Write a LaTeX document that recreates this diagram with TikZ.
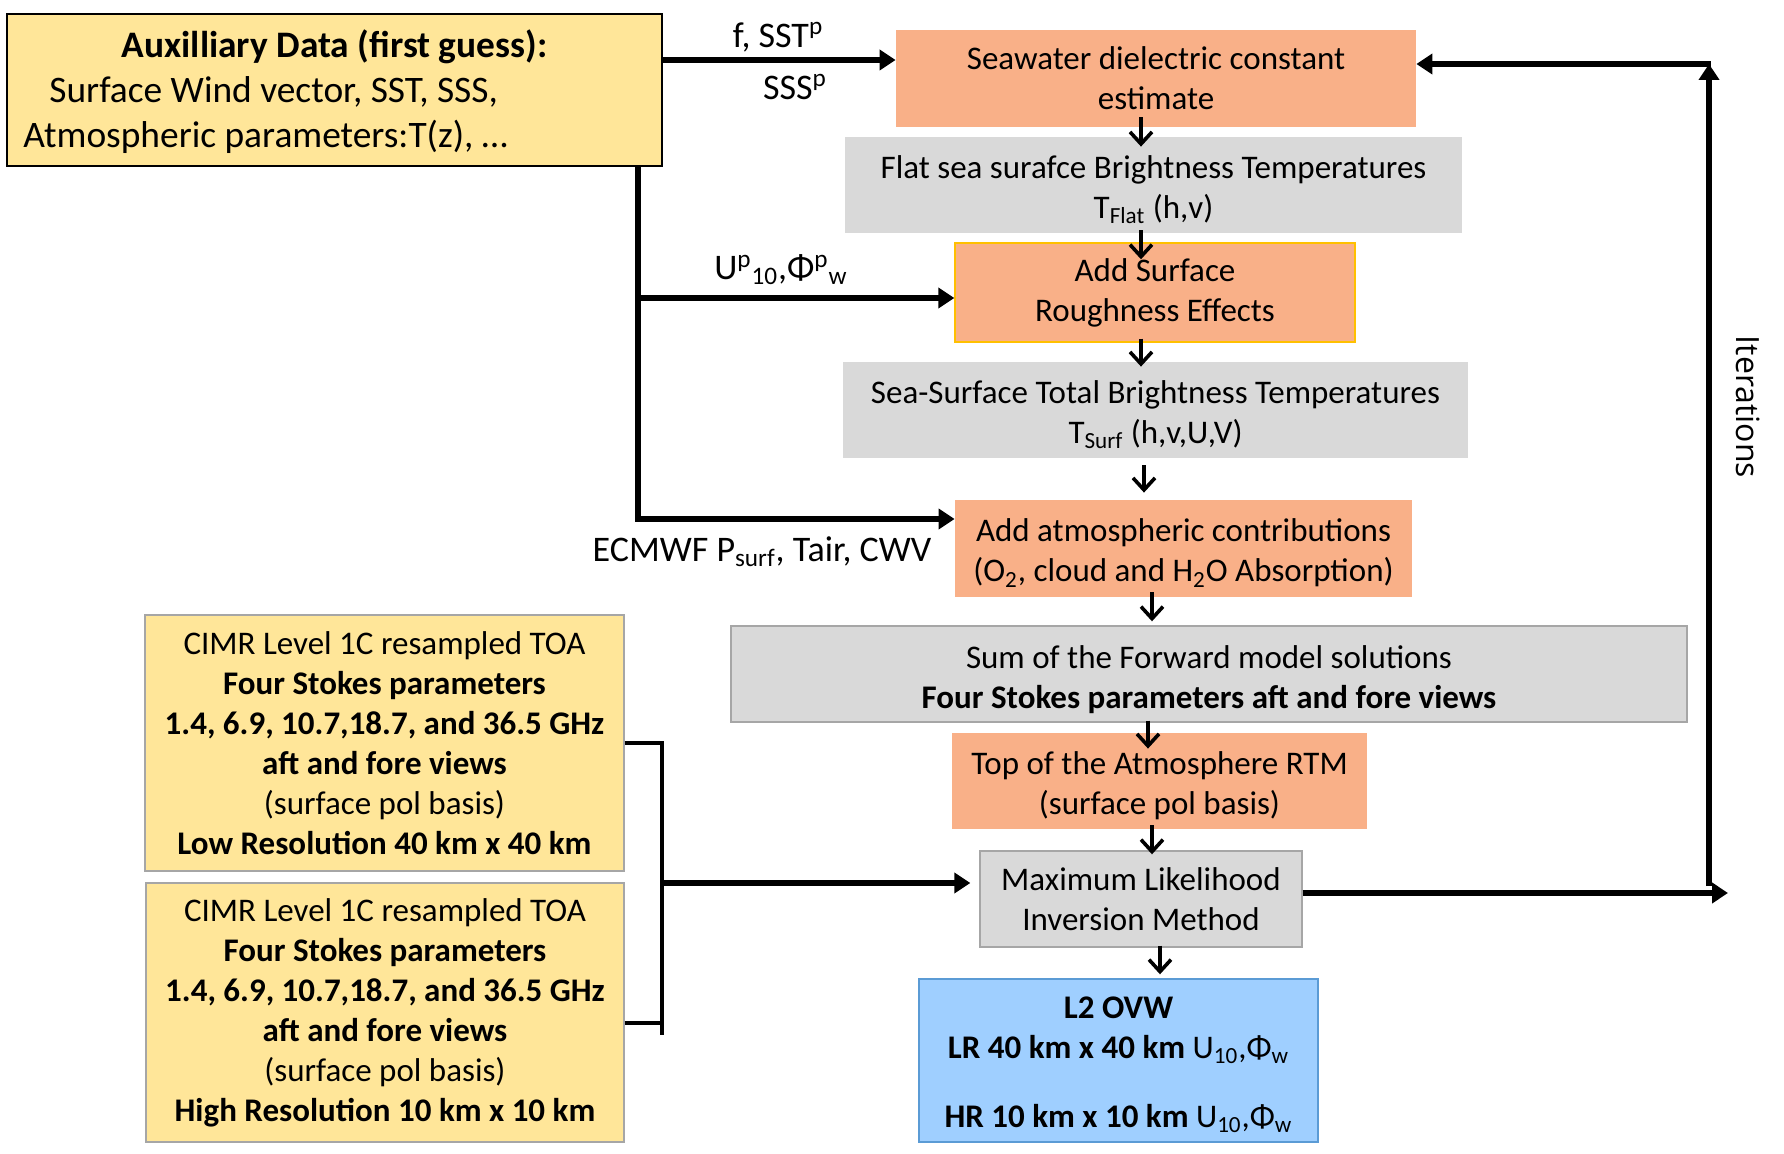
\documentclass[tikz,border=0pt]{standalone}
\usepackage{fontspec}
\setmainfont{Carlito}
\newfontfamily\iterfont{Open Sans}
\usetikzlibrary{arrows.meta,calc}
\definecolor{cyel}{HTML}{FFE699}
\definecolor{csal}{HTML}{F9B088}
\definecolor{cgry}{HTML}{D9D9D9}
\definecolor{cblu}{HTML}{9FCFFF}
\definecolor{cbld}{HTML}{5B9BD5}
\definecolor{cgbd}{HTML}{A6A6A6}
\definecolor{corg}{HTML}{FFC000}
\newcommand\tpush[1]{\rule{0pt}{#1}}
\begin{document}
\begin{tikzpicture}[x=0.5pt,y=-0.5pt,
  box/.style={inner sep=0pt,align=center,font=\fontsize{16.5}{20}\selectfont},
  salbox/.style={box,fill=csal},
  grybox/.style={box,fill=cgry},
  lbl/.style={inner sep=0pt,font=\fontsize{18}{21}\selectfont},
  thickarrow/.style={line width=2.6pt,-{Triangle[length=8pt,width=10pt]}},
  tharrow/.style={line width=1.8pt,-{Straight Barb[length=6pt,width=11pt]}},
  bracketline/.style={line width=1.8pt}]
\useasboundingbox (0,0) rectangle (1784,1154);
\fill[white] (0,0) rectangle (1784,1154);

% boxes
\node[box,fill=cyel,draw=black,line width=1pt,minimum width=327.5pt,minimum height=76pt] (aux) at (334.5,90) {};
\node[lbl,font=\fontsize{18.7}{22}\selectfont\bfseries] (auxt1) at (334.5,47) {Auxilliary Data (first guess):};
\node[lbl,font=\fontsize{18.7}{22}\selectfont,anchor=west] (auxt2) at (49,92) {Surface Wind vector, SST, SSS,};
\node[lbl,font=\fontsize{18.7}{22}\selectfont,anchor=west] (auxt3) at (23,137) {Atmospheric parameters:T(z), \dots};

\node[salbox,minimum width=260pt,minimum height=48.5pt] (sea) at (1156,78.5) {Seawater dielectric constant\\estimate};
\node[grybox,minimum width=308.5pt,minimum height=48pt] (flat) at (1153.5,185) {\tpush{16pt}Flat sea surafce Brightness Temperatures\\T\textsubscript{Flat} (h,v)};
\node[salbox,draw=corg,line width=0.7pt,minimum width=200pt,minimum height=49.5pt] (rough) at (1155,292.5) {Add Surface\\Roughness Effects};
\node[grybox,minimum width=312.5pt,minimum height=48pt] (total) at (1155.5,410) {\tpush{16pt}Sea-Surface Total Brightness Temperatures\\T\textsubscript{Surf} (h,v,U,V)};
\node[salbox,minimum width=228.5pt,minimum height=48.5pt] (atm) at (1183.5,548.5) {\tpush{16pt}Add atmospheric contributions\\(O\textsubscript{2}, cloud and H\textsubscript{2}O Absorption)};
\node[grybox,draw=cgbd,line width=0.7pt,minimum width=478pt,minimum height=48pt] (sum) at (1209,674) {\tpush{17pt}Sum of the Forward model solutions\\\textbf{Four Stokes parameters aft and fore views}};
\node[salbox,minimum width=207.5pt,minimum height=48pt] (toa) at (1159.5,781) {\tpush{16pt}Top of the Atmosphere RTM\\(surface pol basis)};
\node[grybox,draw=cgbd,line width=0.7pt,minimum width=161pt,minimum height=48pt] (ml) at (1141,899) {Maximum Likelihood\\Inversion Method};
\node[box,fill=cblu,draw=cbld,line width=0.7pt,minimum width=199.5pt,minimum height=81.5pt] (l2) at (1118.5,1060.5) {\tpush{15pt}\textbf{L2 OVW}\\\textbf{LR 40 km x 40 km} U\textsubscript{10},Φ\textsubscript{w}\\[14.5pt]\textbf{HR 10 km x 10 km} U\textsubscript{10},Φ\textsubscript{w}};

\node[box,fill=cyel,draw=cgbd,line width=0.7pt,minimum width=239.5pt,minimum height=128pt] (cimr1) at (384.5,743) {CIMR Level 1C resampled TOA\\\textbf{Four Stokes parameters}\\\textbf{1.4, 6.9, 10.7,18.7, and 36.5 GHz}\\\textbf{aft and fore views}\\(surface pol basis)\\\textbf{Low Resolution 40 km x 40 km}};
\node[box,fill=cyel,draw=cgbd,line width=0.7pt,minimum width=239pt,minimum height=129.5pt] (cimr2) at (385,1012.5) {CIMR Level 1C resampled TOA\\\textbf{Four Stokes parameters}\\\textbf{1.4, 6.9, 10.7,18.7, and 36.5 GHz}\\\textbf{aft and fore views}\\(surface pol basis)\\\textbf{High Resolution 10 km x 10 km}};

% labels
\node[lbl] (lf) at (778,37) {f, SST\textsuperscript{p}};
\node[lbl] (ls) at (795,87) {SSS\textsuperscript{p}};
\node[lbl] (lu) at (781,270) {U\textsuperscript{p}\textsubscript{10},Φ\textsuperscript{p}\textsubscript{w}};
\node[lbl] (le) at (762,552) {ECMWF P\textsubscript{surf}, Tair, CWV};
\node[inner sep=0pt,font=\iterfont\fontsize{16}{19}\selectfont,rotate=-90] (iter) at (1748,407) {Iterations};

% coordinates
\coordinate (vj) at (638,519);
\coordinate (rj) at (638,298);
\coordinate (bt) at (662,743);
\coordinate (bb) at (662,1035);
\coordinate (bj) at (662,883);
\coordinate (c2e) at ($(cimr2.east)+(0,10.5)$);
\coordinate (itR) at (1728,893);
\coordinate (itB) at (1709,886);
\coordinate (itT) at (1709,64);
\coordinate (itL) at (1711,64);

% thick connectors
\draw[thickarrow] ([yshift=15pt]aux.east) -- ([yshift=15pt]aux.east -| sea.west);
\draw[thickarrow] (aux.south -| vj) -- (vj) -- (vj -| atm.west);
\draw[thickarrow] (rj) -- (rj -| rough.west);
\draw[bracketline] (cimr1.east) -- (bt) -- (bb);
\draw[bracketline] (c2e) -- (c2e -| bt);
\draw[thickarrow,shorten >=4.5pt] (bj) -- (bj -| ml.west);
\draw[thickarrow] ([yshift=3pt]ml.east) -- (itR);
\draw[thickarrow] (itB) -- (itT);
\draw[thickarrow] (itL) -- (itL -| sea.east);

% short down arrows
\draw[tharrow] ($(sea.south)+(-15,-10)$) -- ($(flat.north)+(-12.5,10)$);
\draw[tharrow] ($(flat.south)+(-12.5,-3)$) -- ($(rough.north)+(-14,17)$);
\draw[tharrow] ($(rough.south)+(-14,-4)$) -- ($(total.north)+(-14.5,5)$);
\draw[tharrow] ($(total.south)+(-11.5,7)$) -- ($(atm.north)+(-39.5,-7)$);
\draw[tharrow] ($(atm.south)+(-31.5,-5)$) -- ($(sum.north)+(-57,-4)$);
\draw[tharrow] ($(sum.south)+(-61,-2)$) -- ($(toa.north)+(-11.5,16)$);
\draw[tharrow] ($(toa.south)+(-7.5,-4)$) -- ($(ml.north)+(11,4)$);
\draw[tharrow] ($(ml.south)+(19,-2)$) -- ($(l2.north)+(41.5,-4)$);
\end{tikzpicture}
\end{document}
